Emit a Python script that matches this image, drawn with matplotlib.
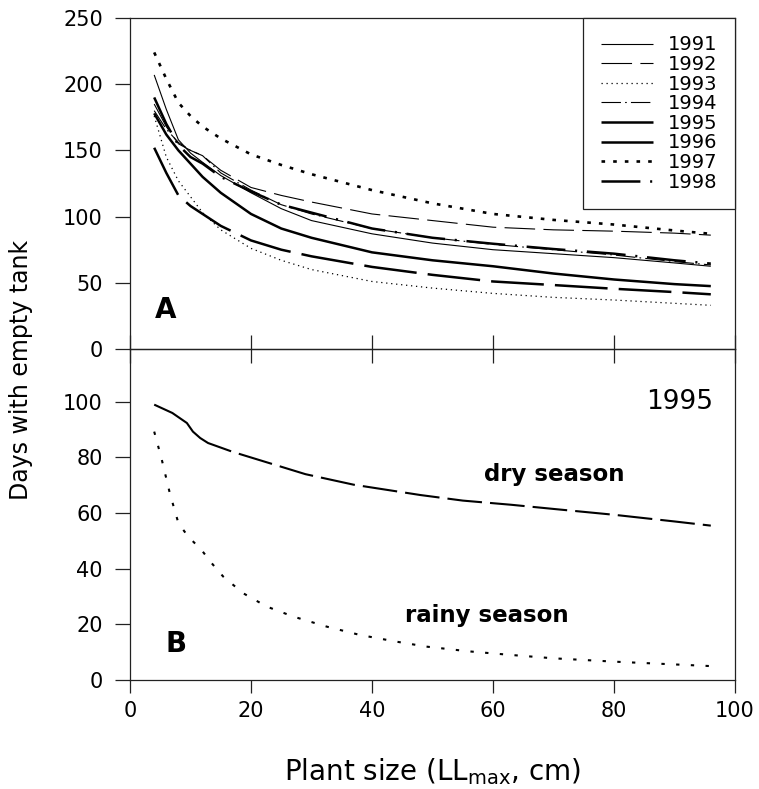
import matplotlib
matplotlib.use('Agg')
import matplotlib.pyplot as plt

plt.rcParams['font.family'] = ['DejaVu Sans']
plt.rcParams['mathtext.default'] = 'regular'
plt.rcParams['lines.scale_dashes'] = False

# ---------------- data (panel A) ----------------
years = ['1991', '1992', '1993', '1994', '1995', '1996', '1997', '1998']
plant_size = [4, 6, 8, 10, 12, 15, 20, 25, 30, 40, 50, 60, 70, 80, 90, 96]
days_1991 = [207, 181, 158, 148, 141, 131, 118, 106, 97, 87, 80, 75, 72, 69, 65, 62.5]
days_1992 = [185, 168, 155, 150, 146, 135, 122, 116, 111, 102, 97, 92, 90, 89, 87.5, 86]
days_1993 = [176, 145, 127, 115, 103, 90, 76, 67, 60, 51, 46, 42, 39, 37, 34.5, 33]
days_1994 = [180, 166, 156, 150, 146, 133, 120, 109, 102, 91, 84, 79, 75, 71, 66, 63.5]
days_1995 = [178, 162, 150, 140, 130, 118, 102, 91, 84, 73, 67, 62.5, 57, 52.5, 49, 47.5]
days_1996 = [152, 133, 116, 108, 102, 93, 82, 75, 70, 62, 56, 51, 48.3, 45.5, 43, 41.3]
days_1997 = [224, 204, 186, 176, 168, 159, 147, 139, 132, 120, 110, 102, 97.5, 94, 89.5, 87]
days_1998 = [190, 170, 154, 145, 140, 130, 119, 109, 103, 91, 84, 79.5, 75.5, 72, 67, 64.5]

# ---------------- data (panel B, 1995) ----------------
dry_size = [4, 7, 9.4, 10.4, 11.6, 12.9, 17, 23, 29, 37, 48, 55, 63, 70, 80, 90, 96]
dry_days = [99, 96, 92.4, 89.3, 87, 85.2, 82, 78, 74, 70.2, 66.5, 64.5, 63, 61.5, 59.4, 57, 55.5]
rainy_size = [4, 5.2, 6.6, 8, 9.6, 11.8, 13.5, 15.4, 18.7, 22.6, 27, 32.5, 38, 44, 49, 56, 63,
              70, 80, 88, 96]
rainy_days = [89.3, 79.7, 67, 56.4, 51.6, 46.8, 42, 37.2, 31.2, 26.4, 22.8, 19.2, 16.2, 13.8,
              12, 10.3, 9, 7.8, 6.6, 5.8, 5]

yticks_A = [0, 50, 100, 150, 200, 250]
yticks_B = [0, 20, 40, 60, 80, 100]
xticks = [0, 20, 40, 60, 80, 100]

series = [days_1991, days_1992, days_1993, days_1994, days_1995, days_1996, days_1997, days_1998]
styles = [
    dict(lw=0.8, ls='-'),
    dict(lw=0.8, ls=(0, (22, 6))),
    dict(lw=0.9, ls=(0, (0.9, 2.7))),
    dict(lw=0.8, ls=(0, (14, 3, 1.2, 3))),
    dict(lw=1.8, ls='-'),
    dict(lw=1.8, ls=(0, (38, 8))),
    dict(lw=1.9, ls=(0, (2.6, 5.8))),
    dict(lw=1.8, ls=(0, (28, 7, 1.5, 7))),
]

W, H = 759, 789
fig = plt.figure(figsize=(W / 100, H / 100), dpi=100, facecolor='white')
left = 130 / W
width = 605 / W
axB = fig.add_axes([left, 1 - 680 / H, width, 331 / H])
axA = fig.add_axes([left, 1 - 349 / H, width, 331 / H])
for ax in (axA, axB):
    ax.patch.set_visible(False)
    for sp in ax.spines.values():
        sp.set_linewidth(0.9)
        sp.set_color('#222222')

# Panel A
for yr, vals, st in zip(years, series, styles):
    axA.plot(plant_size, vals, color='black', linewidth=st['lw'], linestyle=st['ls'],
             label=yr, solid_capstyle='butt', dash_capstyle='butt')
axA.set_xlim(0, 100)
axA.set_ylim(0, 250)
axA.set_yticks(yticks_A)
axA.set_xticks(xticks)
axA.tick_params(axis='x', direction='inout', length=20, width=0.9, labelbottom=False,
                color='#222222')
axA.tick_params(axis='y', direction='out', length=10.5, width=0.9, pad=9, labelsize=15,
                color='#222222')
axA.text(4.1, 23.4, 'A', fontsize=20, fontweight='bold', va='baseline', ha='left')
leg = axA.legend(loc='upper right', bbox_to_anchor=(1, 1), borderaxespad=0,
                 fontsize=14, handlelength=2.7, handletextpad=0.75, borderpad=0.9,
                 labelspacing=0.03, fancybox=False, framealpha=1, edgecolor='#222222')
leg.get_frame().set_linewidth(0.9)

# Panel B
dry_dash = (0, tuple([66, 5.8] + [25, 5.8] * 18))
axB.plot(dry_size, dry_days, color='black', linewidth=1.5, linestyle=dry_dash,
         dash_capstyle='butt')
axB.plot(rainy_size, rainy_days, color='black', linewidth=1.5, linestyle=(0, (2.4, 8.2)),
         dash_capstyle='butt')
axB.set_xlim(0, 100)
axB.set_ylim(0, 119)
axB.set_yticks(yticks_B)
axB.set_xticks(xticks)
axB.tick_params(axis='x', direction='out', length=9.4, width=0.9, pad=5.5, labelsize=15,
                color='#222222')
axB.tick_params(axis='y', direction='out', length=10.5, width=0.9, pad=9, labelsize=15,
                color='#222222')
axB.text(5.95, 10.1, 'B', fontsize=20, fontweight='bold', va='baseline', ha='left')
axB.text(96.4, 97.4, '1995', fontsize=19, va='baseline', ha='right')
axB.text(58.5, 71.5, 'dry season', fontsize=16.5, fontweight='bold', va='baseline', ha='left')
axB.text(45.5, 20.8, 'rainy season', fontsize=16.5, fontweight='bold', va='baseline', ha='left')

fig.text(21 / W, 1 - 370 / H, 'Days with empty tank', rotation=90, fontsize=17,
         ha='center', va='center')
fig.text(432.5 / W, 1 - 780 / H, 'Plant size (LL$_{max}$, cm)', fontsize=20,
         ha='center', va='baseline')

fig.savefig('out.png', dpi=100, facecolor='white')
